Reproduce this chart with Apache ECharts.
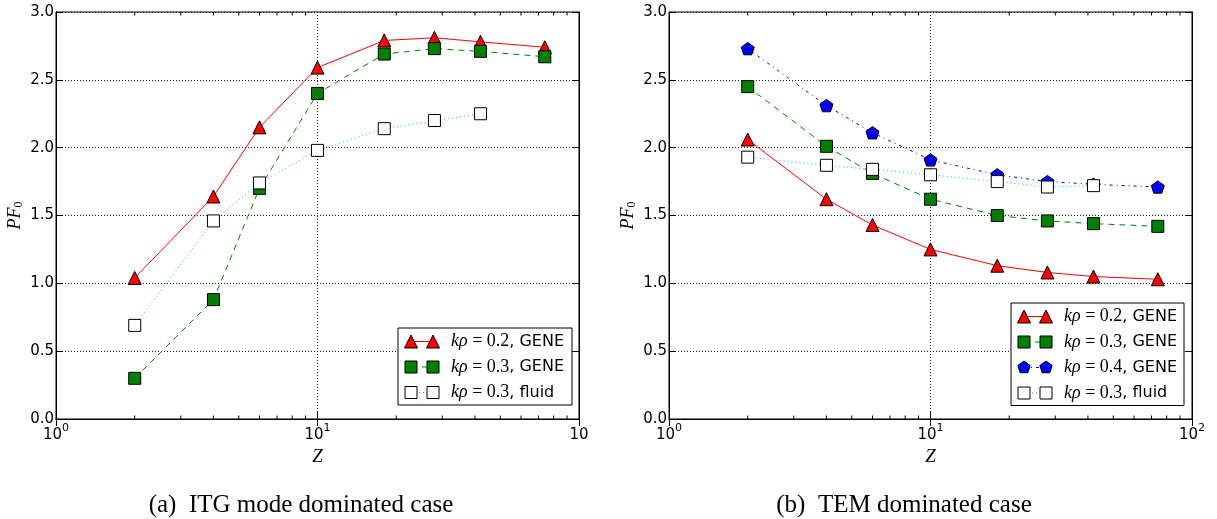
<!DOCTYPE html>
<html>
<head>
<meta charset="utf-8">
<script src="https://cdn.jsdelivr.net/npm/echarts@6/dist/echarts.min.js"></script>
<style>
html,body{margin:0;padding:0;background:#fff;}
#chart{width:1217px;height:519px;}
</style>
</head>
<body>
<div id="chart"></div>
<script>
// ---- data ----
const zGene = [2, 4, 6, 10, 18, 28, 42, 74];
const zFluid = [2, 4, 6, 10, 18, 28, 42];

const itgRed   = [1.04, 1.64, 2.15, 2.59, 2.79, 2.81, 2.78, 2.74];
const itgGreen = [0.30, 0.88, 1.70, 2.40, 2.69, 2.73, 2.71, 2.67];
const itgFluid = [0.69, 1.46, 1.74, 1.98, 2.14, 2.20, 2.25];

const temRed   = [2.06, 1.62, 1.43, 1.25, 1.13, 1.08, 1.05, 1.03];
const temGreen = [2.45, 2.01, 1.81, 1.62, 1.50, 1.46, 1.44, 1.42];
const temBlue  = [2.73, 2.31, 2.11, 1.91, 1.80, 1.75, 1.73, 1.71];
const temFluid = [1.93, 1.87, 1.84, 1.80, 1.75, 1.71, 1.72];

const minorTicks = [2, 3, 4, 5, 6, 7, 8, 9, 20, 30, 40, 50, 60, 70, 80, 90];
const yTicks = [0, 0.5, 1.0, 1.5, 2.0, 2.5, 3.0];

const labels = {
  red: ['0.2', 'GENE'],
  green: ['0.3', 'GENE'],
  blue: ['0.4', 'GENE'],
  fluid: ['0.3', 'fluid']
};
const captions = ['(a)  ITG mode dominated case', '(b)  TEM dominated case'];

// ---- styles ----
const PENT = 'path://M0,-1 L0.951,-0.309 L0.588,0.809 L-0.588,0.809 L-0.951,-0.309 Z';
const sty = {
  red:   {color: '#ff0000', fill: '#ff0000', symbol: 'triangle', size: 13, dash: 'solid'},
  green: {color: '#008000', fill: '#008000', symbol: 'rect', size: 12, dash: [6, 5]},
  blue:  {color: '#0000ff', fill: '#0000ff', symbol: PENT, size: 13, dash: [3, 4, 1, 4]},
  fluid: {color: '#00bfbf', fill: '#ffffff', symbol: 'rect', size: 12, dash: [1, 3]}
};

function pairs(xs, ys) { return xs.map((x, i) => [x, ys[i]]); }

function lineSeries(key, xs, ys, gi) {
  const s = sty[key];
  return {
    type: 'line', xAxisIndex: gi * 2, yAxisIndex: gi * 2,
    data: pairs(xs, ys),
    symbol: s.symbol, symbolSize: s.size, symbolKeepAspect: true,
    showAllSymbol: true,
    lineStyle: {color: s.color, width: 1, type: s.dash},
    itemStyle: {color: s.fill, borderColor: '#000', borderWidth: 1},
    emphasis: {disabled: true}, animation: false
  };
}

function minorSeries(gi) {
  return {
    type: 'custom', xAxisIndex: gi * 2, yAxisIndex: gi * 2, silent: true,
    data: minorTicks.map(v => [v]),
    encode: {x: 0},
    renderItem: function (params, api) {
      const v = api.value(0);
      const b = api.coord([v, 0]);
      const t = api.coord([v, 3]);
      const st = {stroke: '#000', lineWidth: 1};
      return {type: 'group', children: [
        {type: 'line', shape: {x1: b[0], y1: b[1], x2: b[0], y2: b[1] - 3.5}, style: st},
        {type: 'line', shape: {x1: t[0], y1: t[1], x2: t[0], y2: t[1] + 3.5}, style: st}
      ]};
    },
    animation: false
  };
}

const gridL = 56, gridW = 523, gridT = 12, gridH = 407, gap = 613;
const grids = [0, 1].map(i => ({
  left: gridL + i * gap, top: gridT, width: gridW, height: gridH,
  show: true, borderColor: '#000', borderWidth: 1
}));

const serif = 'Liberation Serif';
function xAxes(gi) {
  return [{
    type: 'log', logBase: 10, min: 1, max: 100, gridIndex: gi, position: 'bottom',
    axisLine: {show: true, lineStyle: {color: '#000', width: 1}},
    axisTick: {show: true, inside: true, length: 7, lineStyle: {color: '#000'}},
    splitLine: {show: true, lineStyle: {color: '#222', width: 1, type: [1, 2]}},
    axisLabel: {
      show: true, showMinLabel: true, showMaxLabel: true, margin: 4,
      formatter: function (v) {
        const e = Math.round(Math.log10(v));
        if (gi === 0 && e === 2) return '{b|10}';
        return '{b|10}{s|' + e + '}';
      },
      rich: {
        b: {fontFamily: 'DejaVu Sans', fontSize: 15, color: '#000', lineHeight: 20, verticalAlign: 'bottom'},
        s: {fontFamily: 'DejaVu Sans', fontSize: 11, color: '#000', verticalAlign: 'top', lineHeight: 20, padding: [0, 0, 9, 0]}
      }
    },
    name: 'Z', nameLocation: 'middle', nameGap: 24,
    nameTextStyle: {fontFamily: serif, fontStyle: 'italic', fontSize: 19, color: '#000'}
  }, {
    type: 'log', logBase: 10, min: 1, max: 100, gridIndex: gi, position: 'top',
    axisLine: {show: true, lineStyle: {color: '#000'}},
    axisTick: {show: true, inside: true, length: 7, lineStyle: {color: '#000'}},
    axisLabel: {show: false}, splitLine: {show: false}
  }];
}
function yAxes(gi) {
  return [{
    type: 'value', min: 0, max: 3, interval: 0.5, gridIndex: gi, position: 'left',
    axisLine: {show: true, lineStyle: {color: '#000'}},
    axisTick: {show: true, inside: true, length: 7, lineStyle: {color: '#000'}},
    splitLine: {show: true, lineStyle: {color: '#222', width: 1, type: [1, 2]}},
    axisLabel: {margin: 2, fontFamily: 'DejaVu Sans', fontSize: 15, color: '#000',
      formatter: v => v.toFixed(1), showMinLabel: true, showMaxLabel: true},
    name: '{i|PF}{sub|0}', nameLocation: 'middle', nameGap: 31, nameRotate: 90,
    nameTextStyle: {rich: {
      i: {fontFamily: serif, fontStyle: 'italic', fontSize: 18, color: '#000', lineHeight: 20},
      sub: {fontFamily: serif, fontSize: 12, color: '#000', verticalAlign: 'bottom', lineHeight: 20, padding: [8, 0, 0, 0]}
    }}
  }, {
    type: 'value', min: 0, max: 3, interval: 0.5, gridIndex: gi, position: 'right',
    axisLine: {show: true, lineStyle: {color: '#000'}},
    axisTick: {show: true, inside: true, length: 7, lineStyle: {color: '#000'}},
    axisLabel: {show: false}, splitLine: {show: false}
  }];
}

// ---- legend drawn as graphics ----
function markerEl(key, cx, cy) {
  const s = sty[key];
  const style = {fill: s.fill, stroke: '#000', lineWidth: 1};
  const h = s.size / 2;
  if (s.symbol === 'triangle') {
    return {type: 'polygon', shape: {points: [[cx, cy - h], [cx + h, cy + h], [cx - h, cy + h]]}, style};
  }
  if (s.symbol === 'rect') {
    return {type: 'rect', shape: {x: cx - h, y: cy - h, width: 2 * h, height: 2 * h}, style};
  }
  const r = h;
  const pts = [];
  for (let k = 0; k < 5; k++) {
    const a = -Math.PI / 2 + k * 2 * Math.PI / 5;
    pts.push([cx + r * Math.cos(a), cy + r * Math.sin(a)]);
  }
  return {type: 'polygon', shape: {points: pts}, style};
}
function legendEls(keys, boxX, boxY, boxW) {
  const rowH = 25.5, first = 13.5;
  const boxH = first * 2 + rowH * (keys.length - 1) - 1;
  const els = [{type: 'rect', shape: {x: boxX, y: boxY, width: boxW, height: boxH},
    style: {fill: '#fff', stroke: '#000', lineWidth: 1}, z: 10}];
  keys.forEach((key, i) => {
    const cy = boxY + first + i * rowH;
    const x1 = boxX + 13, x2 = x1 + 22;
    const s = sty[key];
    els.push({type: 'line', shape: {x1: x1, y1: cy, x2: x2, y2: cy},
      style: {stroke: s.color, lineWidth: 1, lineDash: s.dash === 'solid' ? null : s.dash}, z: 11});
    const m1 = markerEl(key, x1, cy); m1.z = 12; els.push(m1);
    const m2 = markerEl(key, x2, cy); m2.z = 12; els.push(m2);
    els.push({type: 'text', x: x1 + 40, y: cy, z: 12, style: {
      text: '{i|kρ}{n| = ' + labels[key][0] + '}{s|, ' + labels[key][1] + '}',
      verticalAlign: 'middle', align: 'left',
      rich: {
        i: {fontFamily: serif, fontStyle: 'italic', fontSize: 18, fill: '#000'},
        n: {fontFamily: serif, fontSize: 18, fill: '#000'},
        s: {fontFamily: 'DejaVu Sans', fontSize: 16, fill: '#000'}
      }
    }});
  });
  return els;
}

const graphic = []
  .concat(legendEls(['red', 'green', 'fluid'], 398, 328, 174))
  .concat(legendEls(['red', 'green', 'blue', 'fluid'], 1011, 303, 173))
  .concat([
    {type: 'text', x: 301, y: 505, style: {text: captions[0], align: 'center', verticalAlign: 'middle',
      fontFamily: serif, fontSize: 25, fill: '#000'}},
    {type: 'text', x: 904, y: 505, style: {text: captions[1], align: 'center', verticalAlign: 'middle',
      fontFamily: serif, fontSize: 25, fill: '#000'}}
  ]);

const option = {
  animation: false,
  backgroundColor: '#fff',
  grid: grids,
  xAxis: xAxes(0).concat(xAxes(1)),
  yAxis: yAxes(0).concat(yAxes(1)),
  series: [
    minorSeries(0), minorSeries(1),
    lineSeries('red', zGene, itgRed, 0),
    lineSeries('green', zGene, itgGreen, 0),
    lineSeries('fluid', zFluid, itgFluid, 0),
    lineSeries('red', zGene, temRed, 1),
    lineSeries('green', zGene, temGreen, 1),
    lineSeries('blue', zGene, temBlue, 1),
    lineSeries('fluid', zFluid, temFluid, 1)
  ],
  graphic: graphic
};

const chart = echarts.init(document.getElementById('chart'), null, {renderer: 'canvas'});
chart.setOption(option);
</script>
</body>
</html>
